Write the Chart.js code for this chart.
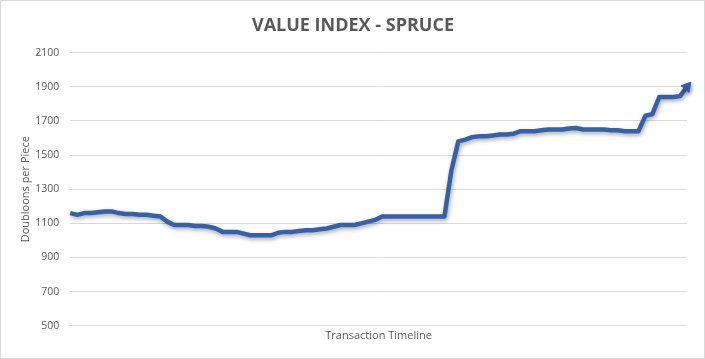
<!DOCTYPE html>
<html>
<head>
<meta charset="utf-8">
<script src="https://cdn.jsdelivr.net/npm/chart.js@4.4.0/dist/chart.umd.min.js"></script>
<style>
  html, body { margin: 0; padding: 0; background: #fff; }
  #wrap { width: 703px; height: 357px; border: 1px solid #d9d9d9; position: relative; }
</style>
</head>
<body>
<div id="wrap"><canvas id="chart" width="703" height="357"></canvas></div>
<script>
// values, one per transaction
var values = [
  1160, 1150, 1160, 1160, 1165, 1170, 1170, 1160, 1155, 1155,
  1150, 1150, 1145, 1140, 1110, 1090, 1090, 1090, 1085, 1085,
  1080, 1070, 1050, 1050, 1050, 1040, 1030, 1030, 1030, 1030,
  1045, 1050, 1050, 1055, 1060, 1060, 1065, 1070, 1080, 1090,
  1090, 1090, 1100, 1110, 1120, 1140, 1140, 1140, 1140, 1140,
  1140, 1140, 1140, 1140, 1140, 1410, 1580, 1590, 1605, 1610,
  1610, 1615, 1620, 1620, 1625, 1640, 1640, 1640, 1645, 1650,
  1650, 1650, 1655, 1658, 1650, 1650, 1650, 1650, 1645, 1645,
  1640, 1640, 1640, 1730, 1740, 1840, 1840, 1840, 1845, 1900
];
var labels = values.map(function(v, i) { return i + 1; });
var yTicks = [500, 700, 900, 1100, 1300, 1500, 1700, 1900, 2100];

var titleText = "VALUE INDEX - SPRUCE";
var yTitle = "Doubloons per Piece";
var xTitle = "Transaction Timeline";

var lineColor = "#3461a8";
var textColor = "#595959";
var gridColor = "#d9d9d9";

// only the last point is drawn, as an arrow head
var lastIdx = values.length - 1;
var radii = values.map(function(v, i) { return i === lastIdx ? 6 : 0; });

// soft shadow under the line, like the office chart
var shadowPlugin = {
  id: "shadow",
  beforeDatasetDraw: function(chart) {
    var ctx = chart.ctx;
    ctx.save();
    ctx.shadowColor = "rgba(0,0,0,0.35)";
    ctx.shadowBlur = 4;
    ctx.shadowOffsetX = 1;
    ctx.shadowOffsetY = 2;
  },
  afterDatasetDraw: function(chart) {
    chart.ctx.restore();
  }
};

new Chart(document.getElementById("chart"), {
  type: "line",
  data: {
    labels: labels,
    datasets: [{
      data: values,
      borderColor: lineColor,
      backgroundColor: lineColor,
      borderWidth: 4.5,
      borderJoinStyle: "round",
      tension: 0,
      pointRadius: radii,
      pointHoverRadius: radii,
      pointStyle: "triangle",
      rotation: 40,
      pointBorderWidth: 1
    }]
  },
  plugins: [shadowPlugin],
  options: {
    responsive: false,
    animation: false,
    devicePixelRatio: 1,
    layout: { padding: { left: 18, right: 17, top: 8, bottom: 3 } },
    plugins: {
      legend: { display: false },
      tooltip: { enabled: false },
      title: {
        display: true,
        text: titleText,
        color: textColor,
        font: { family: "Open Sans", size: 18, weight: "bold" },
        padding: { top: 6, bottom: 16 }
      }
    },
    scales: {
      x: {
        offset: false,
        grid: { display: false, drawTicks: false },
        border: { display: false },
        ticks: { display: false },
        title: {
          display: true,
          text: xTitle,
          color: textColor,
          font: { family: "Open Sans", size: 11 },
          padding: { top: 3, bottom: 13 }
        }
      },
      y: {
        min: 500,
        max: 2100,
        afterBuildTicks: function(axis) {
          axis.ticks = yTicks.map(function(v) { return { value: v }; });
        },
        grid: { color: gridColor, lineWidth: 1, drawTicks: false },
        border: { display: false },
        ticks: {
          color: textColor,
          font: { family: "Open Sans", size: 10.5 },
          padding: 11,
          callback: function(v) { return String(v); }
        },
        title: {
          display: true,
          text: yTitle,
          color: textColor,
          font: { family: "Open Sans", size: 11 },
          padding: { top: 0, bottom: -8 }
        }
      }
    }
  }
});
</script>
</body>
</html>
